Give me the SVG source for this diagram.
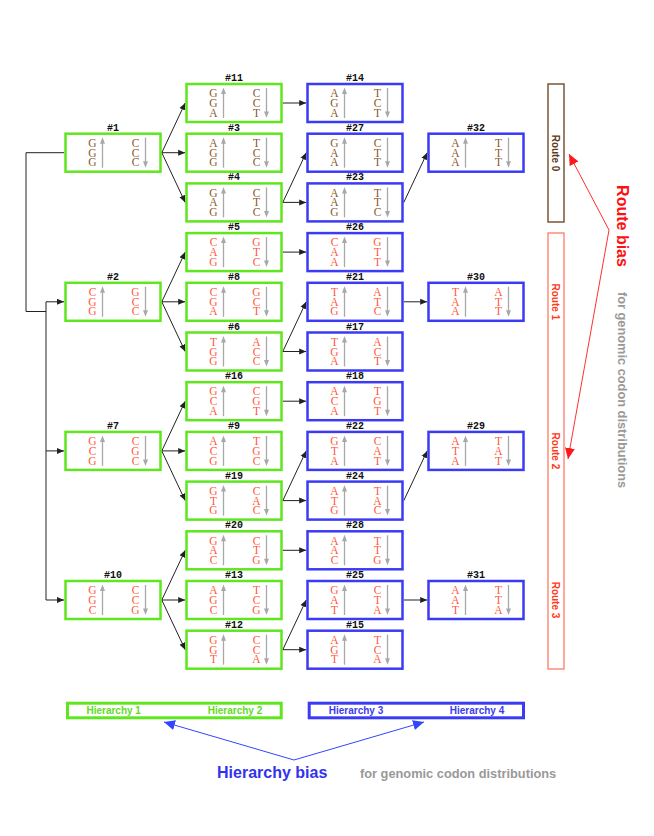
<svg xmlns="http://www.w3.org/2000/svg" xmlns:xlink="http://www.w3.org/1999/xlink" width="654" height="836" viewBox="0 0 654 836">
<style>
.g{fill:#fff;stroke:#5fe61e;stroke-width:2.5}
.bl{fill:#fff;stroke:#3b3bf5;stroke-width:2.5}
.lbl{font-family:"Liberation Mono",monospace;font-weight:bold;font-size:10px;fill:#111;text-anchor:middle}
.cb{font-family:"Liberation Serif",serif;font-size:11.5px;fill:#8b5a2b;text-anchor:middle}
.cr{font-family:"Liberation Serif",serif;font-size:11.5px;fill:#ff5a3c;text-anchor:middle}
.con{fill:none;stroke:#222;stroke-width:1}
.sans{font-family:"Liberation Sans",Arial,sans-serif;font-weight:bold}
</style>
<defs>
<marker id="ah" markerUnits="userSpaceOnUse" markerWidth="8" markerHeight="8" viewBox="0 0 8 8" refX="7" refY="4" orient="auto"><path d="M0,1 L7,4 L0,7 Z" fill="#222"/></marker>
<marker id="rh" markerUnits="userSpaceOnUse" markerWidth="12" markerHeight="12" viewBox="0 0 12 12" refX="11" refY="6" orient="auto"><path d="M0,1 L11,6 L0,11 Z" fill="#ff1a1a"/></marker>
<marker id="bh" markerUnits="userSpaceOnUse" markerWidth="12" markerHeight="12" viewBox="0 0 12 12" refX="11" refY="6" orient="auto"><path d="M0,1 L11,6 L0,11 Z" fill="#3344ff"/></marker>
<g id="arr" fill="#a8a8a8" stroke="#a8a8a8">
<line x1="37" y1="34" x2="37" y2="9" stroke-width="1.3"/><path d="M34.5,10 L37,3.5 L39.5,10 Z" stroke="none"/>
<line x1="80" y1="4" x2="80" y2="28" stroke-width="1.3"/><path d="M77.5,27.5 L80,34 L82.5,27.5 Z" stroke="none"/>
</g>
</defs>
<rect width="654" height="836" fill="#fff"/>

<g id="connectors">
<path class="con" d="M64.2,152.7 H26 V311.5 H46"/>
<path class="con" d="M46,301.8 V600"/>
<path class="con" marker-end="url(#ah)" d="M46,301.8 H64"/>
<path class="con" marker-end="url(#ah)" d="M46,450.9 H64"/>
<path class="con" marker-end="url(#ah)" d="M46,600 H64"/>
<path class="con" marker-end="url(#ah)" d="M161.8,152.7 L185.2,103"/>
<path class="con" marker-end="url(#ah)" d="M161.8,152.7 L185.2,152.7"/>
<path class="con" marker-end="url(#ah)" d="M161.8,152.7 L185.2,202.4"/>
<path class="con" marker-end="url(#ah)" d="M161.8,301.8 L185.2,252.1"/>
<path class="con" marker-end="url(#ah)" d="M161.8,301.8 L185.2,301.8"/>
<path class="con" marker-end="url(#ah)" d="M161.8,301.8 L185.2,351.5"/>
<path class="con" marker-end="url(#ah)" d="M161.8,450.9 L185.2,401.2"/>
<path class="con" marker-end="url(#ah)" d="M161.8,450.9 L185.2,450.9"/>
<path class="con" marker-end="url(#ah)" d="M161.8,450.9 L185.2,500.6"/>
<path class="con" marker-end="url(#ah)" d="M161.8,600 L185.2,550.3"/>
<path class="con" marker-end="url(#ah)" d="M161.8,600 L185.2,600"/>
<path class="con" marker-end="url(#ah)" d="M161.8,600 L185.2,649.7"/>
<path class="con" marker-end="url(#ah)" d="M282.8,103 L306.2,103"/>
<path class="con" marker-end="url(#ah)" d="M282.8,202.4 L306.2,152.7"/>
<path class="con" marker-end="url(#ah)" d="M282.8,202.4 L306.2,202.4"/>
<path class="con" marker-end="url(#ah)" d="M282.8,252.1 L306.2,252.1"/>
<path class="con" marker-end="url(#ah)" d="M282.8,351.5 L306.2,301.8"/>
<path class="con" marker-end="url(#ah)" d="M282.8,351.5 L306.2,351.5"/>
<path class="con" marker-end="url(#ah)" d="M282.8,401.2 L306.2,401.2"/>
<path class="con" marker-end="url(#ah)" d="M282.8,500.6 L306.2,450.9"/>
<path class="con" marker-end="url(#ah)" d="M282.8,500.6 L306.2,500.6"/>
<path class="con" marker-end="url(#ah)" d="M282.8,550.3 L306.2,550.3"/>
<path class="con" marker-end="url(#ah)" d="M282.8,649.7 L306.2,600"/>
<path class="con" marker-end="url(#ah)" d="M282.8,649.7 L306.2,649.7"/>
<path class="con" marker-end="url(#ah)" d="M403.8,202.4 L427.2,152.7"/>
<path class="con" marker-end="url(#ah)" d="M403.8,301.8 L427.2,301.8"/>
<path class="con" marker-end="url(#ah)" d="M403.8,500.6 L427.2,450.9"/>
<path class="con" marker-end="url(#ah)" d="M403.8,600 L427.2,600"/>
</g>

<!-- Hierarchy 1 -->
<g id="n1" transform="translate(65.5,133.7)"><rect class="g" width="95" height="38"/><text class="lbl" x="47.5" y="-3">#1</text><text class="cb"><tspan x="27" y="13.3">G</tspan><tspan x="27" y="23">G</tspan><tspan x="27" y="32.7">G</tspan><tspan x="70" y="13.3">C</tspan><tspan x="70" y="23">C</tspan><tspan x="70" y="32.7">C</tspan></text><use xlink:href="#arr"/></g>
<g id="n2" transform="translate(65.5,282.8)"><rect class="g" width="95" height="38"/><text class="lbl" x="47.5" y="-3">#2</text><text class="cr"><tspan x="27" y="13.3">C</tspan><tspan x="27" y="23">G</tspan><tspan x="27" y="32.7">G</tspan><tspan x="70" y="13.3">G</tspan><tspan x="70" y="23">C</tspan><tspan x="70" y="32.7">C</tspan></text><use xlink:href="#arr"/></g>
<g id="n7" transform="translate(65.5,431.9)"><rect class="g" width="95" height="38"/><text class="lbl" x="47.5" y="-3">#7</text><text class="cr"><tspan x="27" y="13.3">G</tspan><tspan x="27" y="23">C</tspan><tspan x="27" y="32.7">G</tspan><tspan x="70" y="13.3">C</tspan><tspan x="70" y="23">G</tspan><tspan x="70" y="32.7">C</tspan></text><use xlink:href="#arr"/></g>
<g id="n10" transform="translate(65.5,581)"><rect class="g" width="95" height="38"/><text class="lbl" x="47.5" y="-3">#10</text><text class="cr"><tspan x="27" y="13.3">G</tspan><tspan x="27" y="23">G</tspan><tspan x="27" y="32.7">C</tspan><tspan x="70" y="13.3">C</tspan><tspan x="70" y="23">C</tspan><tspan x="70" y="32.7">G</tspan></text><use xlink:href="#arr"/></g>

<!-- Hierarchy 2 -->
<g id="n11" transform="translate(186.5,84)"><rect class="g" width="95" height="38"/><text class="lbl" x="47.5" y="-3">#11</text><text class="cb"><tspan x="27" y="13.3">G</tspan><tspan x="27" y="23">G</tspan><tspan x="27" y="32.7">A</tspan><tspan x="70" y="13.3">C</tspan><tspan x="70" y="23">C</tspan><tspan x="70" y="32.7">T</tspan></text><use xlink:href="#arr"/></g>
<g id="n3" transform="translate(186.5,133.7)"><rect class="g" width="95" height="38"/><text class="lbl" x="47.5" y="-3">#3</text><text class="cb"><tspan x="27" y="13.3">A</tspan><tspan x="27" y="23">G</tspan><tspan x="27" y="32.7">G</tspan><tspan x="70" y="13.3">T</tspan><tspan x="70" y="23">C</tspan><tspan x="70" y="32.7">C</tspan></text><use xlink:href="#arr"/></g>
<g id="n4" transform="translate(186.5,183.4)"><rect class="g" width="95" height="38"/><text class="lbl" x="47.5" y="-3">#4</text><text class="cb"><tspan x="27" y="13.3">G</tspan><tspan x="27" y="23">A</tspan><tspan x="27" y="32.7">G</tspan><tspan x="70" y="13.3">C</tspan><tspan x="70" y="23">T</tspan><tspan x="70" y="32.7">C</tspan></text><use xlink:href="#arr"/></g>
<g id="n5" transform="translate(186.5,233.1)"><rect class="g" width="95" height="38"/><text class="lbl" x="47.5" y="-3">#5</text><text class="cr"><tspan x="27" y="13.3">C</tspan><tspan x="27" y="23">A</tspan><tspan x="27" y="32.7">G</tspan><tspan x="70" y="13.3">G</tspan><tspan x="70" y="23">T</tspan><tspan x="70" y="32.7">C</tspan></text><use xlink:href="#arr"/></g>
<g id="n8" transform="translate(186.5,282.8)"><rect class="g" width="95" height="38"/><text class="lbl" x="47.5" y="-3">#8</text><text class="cr"><tspan x="27" y="13.3">C</tspan><tspan x="27" y="23">G</tspan><tspan x="27" y="32.7">A</tspan><tspan x="70" y="13.3">G</tspan><tspan x="70" y="23">C</tspan><tspan x="70" y="32.7">T</tspan></text><use xlink:href="#arr"/></g>
<g id="n6" transform="translate(186.5,332.5)"><rect class="g" width="95" height="38"/><text class="lbl" x="47.5" y="-3">#6</text><text class="cr"><tspan x="27" y="13.3">T</tspan><tspan x="27" y="23">G</tspan><tspan x="27" y="32.7">G</tspan><tspan x="70" y="13.3">A</tspan><tspan x="70" y="23">C</tspan><tspan x="70" y="32.7">C</tspan></text><use xlink:href="#arr"/></g>
<g id="n16" transform="translate(186.5,382.2)"><rect class="g" width="95" height="38"/><text class="lbl" x="47.5" y="-3">#16</text><text class="cr"><tspan x="27" y="13.3">G</tspan><tspan x="27" y="23">C</tspan><tspan x="27" y="32.7">A</tspan><tspan x="70" y="13.3">C</tspan><tspan x="70" y="23">G</tspan><tspan x="70" y="32.7">T</tspan></text><use xlink:href="#arr"/></g>
<g id="n9" transform="translate(186.5,431.9)"><rect class="g" width="95" height="38"/><text class="lbl" x="47.5" y="-3">#9</text><text class="cr"><tspan x="27" y="13.3">A</tspan><tspan x="27" y="23">C</tspan><tspan x="27" y="32.7">G</tspan><tspan x="70" y="13.3">T</tspan><tspan x="70" y="23">G</tspan><tspan x="70" y="32.7">C</tspan></text><use xlink:href="#arr"/></g>
<g id="n19" transform="translate(186.5,481.6)"><rect class="g" width="95" height="38"/><text class="lbl" x="47.5" y="-3">#19</text><text class="cr"><tspan x="27" y="13.3">G</tspan><tspan x="27" y="23">T</tspan><tspan x="27" y="32.7">G</tspan><tspan x="70" y="13.3">C</tspan><tspan x="70" y="23">A</tspan><tspan x="70" y="32.7">C</tspan></text><use xlink:href="#arr"/></g>
<g id="n20" transform="translate(186.5,531.3)"><rect class="g" width="95" height="38"/><text class="lbl" x="47.5" y="-3">#20</text><text class="cr"><tspan x="27" y="13.3">G</tspan><tspan x="27" y="23">A</tspan><tspan x="27" y="32.7">C</tspan><tspan x="70" y="13.3">C</tspan><tspan x="70" y="23">T</tspan><tspan x="70" y="32.7">G</tspan></text><use xlink:href="#arr"/></g>
<g id="n13" transform="translate(186.5,581)"><rect class="g" width="95" height="38"/><text class="lbl" x="47.5" y="-3">#13</text><text class="cr"><tspan x="27" y="13.3">A</tspan><tspan x="27" y="23">G</tspan><tspan x="27" y="32.7">C</tspan><tspan x="70" y="13.3">T</tspan><tspan x="70" y="23">C</tspan><tspan x="70" y="32.7">G</tspan></text><use xlink:href="#arr"/></g>
<g id="n12" transform="translate(186.5,630.7)"><rect class="g" width="95" height="38"/><text class="lbl" x="47.5" y="-3">#12</text><text class="cr"><tspan x="27" y="13.3">G</tspan><tspan x="27" y="23">G</tspan><tspan x="27" y="32.7">T</tspan><tspan x="70" y="13.3">C</tspan><tspan x="70" y="23">C</tspan><tspan x="70" y="32.7">A</tspan></text><use xlink:href="#arr"/></g>

<!-- Hierarchy 3 -->
<g id="n14" transform="translate(307.5,84)"><rect class="bl" width="95" height="38"/><text class="lbl" x="47.5" y="-3">#14</text><text class="cb"><tspan x="27" y="13.3">A</tspan><tspan x="27" y="23">G</tspan><tspan x="27" y="32.7">A</tspan><tspan x="70" y="13.3">T</tspan><tspan x="70" y="23">C</tspan><tspan x="70" y="32.7">T</tspan></text><use xlink:href="#arr"/></g>
<g id="n27" transform="translate(307.5,133.7)"><rect class="bl" width="95" height="38"/><text class="lbl" x="47.5" y="-3">#27</text><text class="cb"><tspan x="27" y="13.3">G</tspan><tspan x="27" y="23">A</tspan><tspan x="27" y="32.7">A</tspan><tspan x="70" y="13.3">C</tspan><tspan x="70" y="23">T</tspan><tspan x="70" y="32.7">T</tspan></text><use xlink:href="#arr"/></g>
<g id="n23" transform="translate(307.5,183.4)"><rect class="bl" width="95" height="38"/><text class="lbl" x="47.5" y="-3">#23</text><text class="cb"><tspan x="27" y="13.3">A</tspan><tspan x="27" y="23">A</tspan><tspan x="27" y="32.7">G</tspan><tspan x="70" y="13.3">T</tspan><tspan x="70" y="23">T</tspan><tspan x="70" y="32.7">C</tspan></text><use xlink:href="#arr"/></g>
<g id="n26" transform="translate(307.5,233.1)"><rect class="bl" width="95" height="38"/><text class="lbl" x="47.5" y="-3">#26</text><text class="cr"><tspan x="27" y="13.3">C</tspan><tspan x="27" y="23">A</tspan><tspan x="27" y="32.7">A</tspan><tspan x="70" y="13.3">G</tspan><tspan x="70" y="23">T</tspan><tspan x="70" y="32.7">T</tspan></text><use xlink:href="#arr"/></g>
<g id="n21" transform="translate(307.5,282.8)"><rect class="bl" width="95" height="38"/><text class="lbl" x="47.5" y="-3">#21</text><text class="cr"><tspan x="27" y="13.3">T</tspan><tspan x="27" y="23">A</tspan><tspan x="27" y="32.7">G</tspan><tspan x="70" y="13.3">A</tspan><tspan x="70" y="23">T</tspan><tspan x="70" y="32.7">C</tspan></text><use xlink:href="#arr"/></g>
<g id="n17" transform="translate(307.5,332.5)"><rect class="bl" width="95" height="38"/><text class="lbl" x="47.5" y="-3">#17</text><text class="cr"><tspan x="27" y="13.3">T</tspan><tspan x="27" y="23">G</tspan><tspan x="27" y="32.7">A</tspan><tspan x="70" y="13.3">A</tspan><tspan x="70" y="23">C</tspan><tspan x="70" y="32.7">T</tspan></text><use xlink:href="#arr"/></g>
<g id="n18" transform="translate(307.5,382.2)"><rect class="bl" width="95" height="38"/><text class="lbl" x="47.5" y="-3">#18</text><text class="cr"><tspan x="27" y="13.3">A</tspan><tspan x="27" y="23">C</tspan><tspan x="27" y="32.7">A</tspan><tspan x="70" y="13.3">T</tspan><tspan x="70" y="23">G</tspan><tspan x="70" y="32.7">T</tspan></text><use xlink:href="#arr"/></g>
<g id="n22" transform="translate(307.5,431.9)"><rect class="bl" width="95" height="38"/><text class="lbl" x="47.5" y="-3">#22</text><text class="cr"><tspan x="27" y="13.3">G</tspan><tspan x="27" y="23">T</tspan><tspan x="27" y="32.7">A</tspan><tspan x="70" y="13.3">C</tspan><tspan x="70" y="23">A</tspan><tspan x="70" y="32.7">T</tspan></text><use xlink:href="#arr"/></g>
<g id="n24" transform="translate(307.5,481.6)"><rect class="bl" width="95" height="38"/><text class="lbl" x="47.5" y="-3">#24</text><text class="cr"><tspan x="27" y="13.3">A</tspan><tspan x="27" y="23">T</tspan><tspan x="27" y="32.7">G</tspan><tspan x="70" y="13.3">T</tspan><tspan x="70" y="23">A</tspan><tspan x="70" y="32.7">C</tspan></text><use xlink:href="#arr"/></g>
<g id="n28" transform="translate(307.5,531.3)"><rect class="bl" width="95" height="38"/><text class="lbl" x="47.5" y="-3">#28</text><text class="cr"><tspan x="27" y="13.3">A</tspan><tspan x="27" y="23">A</tspan><tspan x="27" y="32.7">C</tspan><tspan x="70" y="13.3">T</tspan><tspan x="70" y="23">T</tspan><tspan x="70" y="32.7">G</tspan></text><use xlink:href="#arr"/></g>
<g id="n25" transform="translate(307.5,581)"><rect class="bl" width="95" height="38"/><text class="lbl" x="47.5" y="-3">#25</text><text class="cr"><tspan x="27" y="13.3">G</tspan><tspan x="27" y="23">A</tspan><tspan x="27" y="32.7">T</tspan><tspan x="70" y="13.3">C</tspan><tspan x="70" y="23">T</tspan><tspan x="70" y="32.7">A</tspan></text><use xlink:href="#arr"/></g>
<g id="n15" transform="translate(307.5,630.7)"><rect class="bl" width="95" height="38"/><text class="lbl" x="47.5" y="-3">#15</text><text class="cr"><tspan x="27" y="13.3">A</tspan><tspan x="27" y="23">G</tspan><tspan x="27" y="32.7">T</tspan><tspan x="70" y="13.3">T</tspan><tspan x="70" y="23">C</tspan><tspan x="70" y="32.7">A</tspan></text><use xlink:href="#arr"/></g>

<!-- Hierarchy 4 -->
<g id="n32" transform="translate(428.5,133.7)"><rect class="bl" width="95" height="38"/><text class="lbl" x="47.5" y="-3">#32</text><text class="cb"><tspan x="27" y="13.3">A</tspan><tspan x="27" y="23">A</tspan><tspan x="27" y="32.7">A</tspan><tspan x="70" y="13.3">T</tspan><tspan x="70" y="23">T</tspan><tspan x="70" y="32.7">T</tspan></text><use xlink:href="#arr"/></g>
<g id="n30" transform="translate(428.5,282.8)"><rect class="bl" width="95" height="38"/><text class="lbl" x="47.5" y="-3">#30</text><text class="cr"><tspan x="27" y="13.3">T</tspan><tspan x="27" y="23">A</tspan><tspan x="27" y="32.7">A</tspan><tspan x="70" y="13.3">A</tspan><tspan x="70" y="23">T</tspan><tspan x="70" y="32.7">T</tspan></text><use xlink:href="#arr"/></g>
<g id="n29" transform="translate(428.5,431.9)"><rect class="bl" width="95" height="38"/><text class="lbl" x="47.5" y="-3">#29</text><text class="cr"><tspan x="27" y="13.3">A</tspan><tspan x="27" y="23">T</tspan><tspan x="27" y="32.7">A</tspan><tspan x="70" y="13.3">T</tspan><tspan x="70" y="23">A</tspan><tspan x="70" y="32.7">T</tspan></text><use xlink:href="#arr"/></g>
<g id="n31" transform="translate(428.5,581)"><rect class="bl" width="95" height="38"/><text class="lbl" x="47.5" y="-3">#31</text><text class="cr"><tspan x="27" y="13.3">A</tspan><tspan x="27" y="23">A</tspan><tspan x="27" y="32.7">T</tspan><tspan x="70" y="13.3">T</tspan><tspan x="70" y="23">T</tspan><tspan x="70" y="32.7">A</tspan></text><use xlink:href="#arr"/></g>

<!-- Routes -->
<g id="route0">
<rect x="548" y="84" width="16" height="138" fill="#fff" stroke="#7b5535" stroke-width="1.5"/>
<text class="sans" font-size="10" fill="#5c3a1a" text-anchor="middle" transform="translate(555.5,153) rotate(90)" y="3.5">Route 0</text>
</g>
<g id="route123">
<rect x="548" y="233" width="16" height="436" fill="#fff" stroke="#ff7a66" stroke-width="1.3"/>
<text class="sans" font-size="10" fill="#ff3a1a" text-anchor="middle" transform="translate(555.5,301.8) rotate(90)" y="3.5">Route 1</text>
<text class="sans" font-size="10" fill="#ff3a1a" text-anchor="middle" transform="translate(555.5,450.9) rotate(90)" y="3.5">Route 2</text>
<text class="sans" font-size="10" fill="#ff3a1a" text-anchor="middle" transform="translate(555.5,600) rotate(90)" y="3.5">Route 3</text>
</g>
<g id="routebias">
<path d="M609,230 L569,154" fill="none" stroke="#ff3030" stroke-width="1" marker-end="url(#rh)"/>
<path d="M609,230 L568,459" fill="none" stroke="#ff3030" stroke-width="1" marker-end="url(#rh)"/>
<text class="sans" font-size="16" fill="#ff1010" text-anchor="middle" transform="translate(622,226) rotate(90)" y="5.5">Route bias</text>
<text class="sans" font-size="12.8" fill="#999" text-anchor="middle" transform="translate(622,390) rotate(90)" y="4.5">for genomic codon distributions</text>
</g>

<!-- Hierarchies legend -->
<g id="hier12">
<rect x="67.5" y="703.2" width="213.7" height="14.6" fill="#fff" stroke="#5fe61e" stroke-width="3"/>
<text class="sans" font-size="10" fill="#5fdc1e" text-anchor="middle" x="113.7" y="714.3">Hierarchy 1</text>
<text class="sans" font-size="10" fill="#5fdc1e" text-anchor="middle" x="235" y="714.3">Hierarchy 2</text>
</g>
<g id="hier34">
<rect x="309.2" y="703.2" width="214.3" height="14.6" fill="#fff" stroke="#3b3bf5" stroke-width="3"/>
<text class="sans" font-size="10" fill="#3b3bf0" text-anchor="middle" x="356" y="714.3">Hierarchy 3</text>
<text class="sans" font-size="10" fill="#3b3bf0" text-anchor="middle" x="477" y="714.3">Hierarchy 4</text>
</g>
<g id="hierbias">
<path d="M294,760 L164,722" fill="none" stroke="#3344ff" stroke-width="1" marker-end="url(#bh)"/>
<path d="M294,760 L424,722" fill="none" stroke="#3344ff" stroke-width="1" marker-end="url(#bh)"/>
<text class="sans" font-size="16" fill="#3333ee" x="217" y="778">Hierarchy bias</text>
<text class="sans" font-size="12.8" fill="#999" x="360" y="777.5">for genomic codon distributions</text>
</g>
</svg>
